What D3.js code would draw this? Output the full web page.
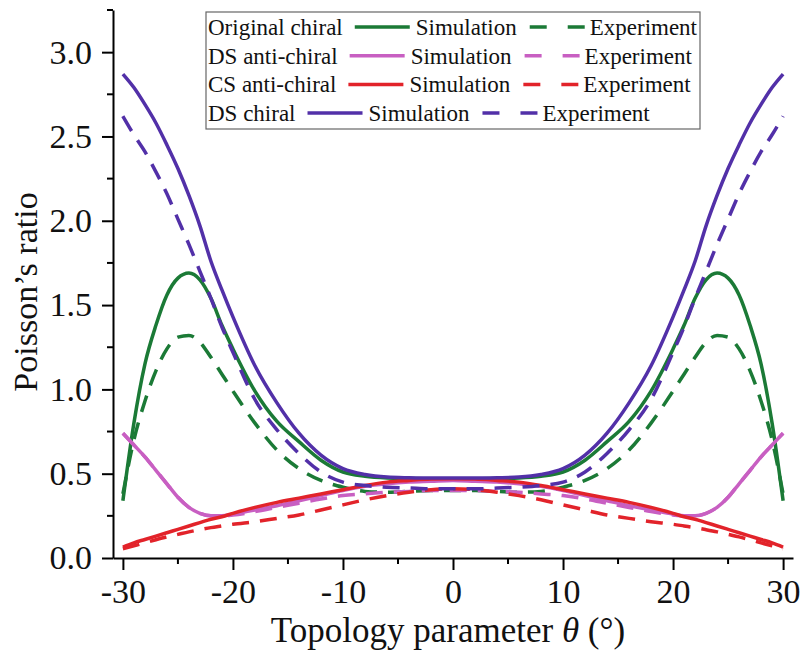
<!DOCTYPE html>
<html>
<head>
<meta charset="utf-8">
<script src="https://cdn.jsdelivr.net/npm/d3@7"></script>
<style>
  body { margin: 0; background: #fff; }
  svg { display: block; }
  svg text { font-family: "Liberation Serif", "Times New Roman", serif; fill: #111; }
</style>
</head>
<body>
<svg width="802" height="654" viewBox="0 0 802 654"></svg>
<script>
//shared topology parameter values (degrees)
var theta = [-30,-29,-28,-27,-26,-25,-24,-23,-22,-21,-20,-18,-16,-14,-12,-10,-8,-6,-4,-2,0,
  2,4,6,8,10,12,14,16,18,20,21,22,23,24,25,26,27,28,29,30];

//Original chiral
var origSim = [0.34,0.80,1.15,1.38,1.56,1.66,1.69,1.65,1.54,1.38,1.24,0.99,0.81,0.69,0.58,0.51,0.485,0.475,0.472,0.47,0.47,
  0.47,0.472,0.475,0.485,0.51,0.58,0.69,0.81,0.99,1.24,1.38,1.54,1.65,1.69,1.66,1.56,1.38,1.15,0.80,0.34];
var origExp = [0.38,0.70,0.93,1.11,1.24,1.31,1.32,1.28,1.19,1.09,0.99,0.80,0.64,0.53,0.46,0.42,0.395,0.39,0.395,0.40,0.40,
  0.40,0.395,0.39,0.395,0.42,0.46,0.53,0.64,0.80,0.99,1.09,1.19,1.28,1.32,1.31,1.24,1.11,0.93,0.70,0.38];

//DS anti-chiral
var dsAntiSim = [0.74,0.67,0.60,0.52,0.44,0.36,0.30,0.265,0.25,0.25,0.26,0.285,0.31,0.34,0.37,0.40,0.425,0.44,0.45,0.455,0.46,
  0.455,0.45,0.44,0.425,0.40,0.37,0.34,0.31,0.285,0.26,0.25,0.25,0.265,0.30,0.36,0.44,0.52,0.60,0.67,0.74];
var dsAntiExp = [0.74,0.67,0.60,0.52,0.44,0.36,0.30,0.265,0.25,0.25,0.255,0.275,0.30,0.325,0.35,0.37,0.38,0.39,0.395,0.40,0.40,
  0.40,0.395,0.39,0.38,0.37,0.35,0.325,0.30,0.275,0.255,0.25,0.25,0.265,0.30,0.36,0.44,0.52,0.60,0.67,0.74];

//CS anti-chiral
var csAntiSim = [0.065,0.09,0.11,0.13,0.15,0.17,0.19,0.21,0.23,0.245,0.265,0.30,0.33,0.355,0.38,0.405,0.43,0.45,0.46,0.468,0.47,
  0.468,0.46,0.45,0.43,0.405,0.38,0.355,0.33,0.30,0.265,0.245,0.23,0.21,0.19,0.17,0.15,0.13,0.11,0.09,0.065];
var csAntiExp = [0.055,0.072,0.09,0.108,0.125,0.14,0.155,0.168,0.18,0.19,0.20,0.215,0.235,0.255,0.285,0.315,0.345,0.37,0.39,0.405,0.41,
  0.405,0.39,0.37,0.345,0.315,0.285,0.255,0.235,0.215,0.20,0.19,0.18,0.168,0.155,0.14,0.125,0.108,0.09,0.072,0.055];

//DS chiral
var dsChiralSim = [2.87,2.79,2.69,2.58,2.45,2.31,2.15,1.97,1.76,1.59,1.43,1.14,0.92,0.74,0.61,0.53,0.495,0.48,0.476,0.474,0.474,
  0.474,0.476,0.48,0.495,0.53,0.61,0.74,0.92,1.14,1.43,1.59,1.76,1.97,2.15,2.31,2.45,2.58,2.69,2.79,2.87];
var dsChiralExp = [2.62,2.51,2.41,2.29,2.16,2.01,1.86,1.70,1.54,1.37,1.22,0.94,0.76,0.62,0.51,0.45,0.43,0.42,0.415,0.41,0.41,
  0.41,0.415,0.42,0.43,0.45,0.51,0.62,0.76,0.94,1.22,1.37,1.54,1.70,1.86,2.01,2.16,2.29,2.41,2.51,2.62];

var groupNames = ["Original chiral", "DS anti-chiral", "CS anti-chiral", "DS chiral"];
var groupColors = ["#1b7a36", "#c85fc2", "#e2232a", "#5230a8"];
var simSeries = [origSim, dsAntiSim, csAntiSim, dsChiralSim];
var expSeries = [origExp, dsAntiExp, csAntiExp, dsChiralExp];

var xMajor = [-30, -20, -10, 0, 10, 20, 30];
var xMinor = [-25, -15, -5, 5, 15, 25];
var yMajor = [0, 0.5, 1.0, 1.5, 2.0, 2.5, 3.0];
var yMinor = [0.25, 0.75, 1.25, 1.75, 2.25, 2.75, 3.25];

var svg = d3.select("svg");

var x = d3.scaleLinear().domain([-30.9, 30.9]).range([113, 793]);
var y = d3.scaleLinear().domain([0, 3.25]).range([558, 10]);

var line = d3.line()
  .x(function(d) { return x(d[0]); })
  .y(function(d) { return y(d[1]); })
  .curve(d3.curveMonotoneX);

//curves: simulation solid, experiment dashed, in legend order
var plot = svg.append("g");
groupNames.forEach(function(name, i) {
  plot.append("path")
    .datum(theta.map(function(t, k) { return [t, simSeries[i][k]]; }))
    .attr("d", line)
    .attr("fill", "none")
    .attr("stroke", groupColors[i])
    .attr("stroke-width", 3.5);
  plot.append("path")
    .datum(theta.map(function(t, k) { return [t, expSeries[i][k]]; }))
    .attr("d", line)
    .attr("fill", "none")
    .attr("stroke", groupColors[i])
    .attr("stroke-width", 3.5)
    .attr("stroke-dasharray", "17,11");
});

//axes (hyphen minus like the original figure)
var xAxis = svg.append("g").attr("transform", "translate(0,558)");
xAxis.call(d3.axisBottom(x).tickValues(xMajor).tickSize(12).tickSizeOuter(0).tickPadding(10)
  .tickFormat(function(d) { return String(d); }));
xAxis.selectAll(".minor").data(xMinor).enter().append("line")
  .attr("x1", function(d) { return x(d); }).attr("x2", function(d) { return x(d); })
  .attr("y1", 0).attr("y2", 6);

var yAxis = svg.append("g").attr("transform", "translate(113,0)");
yAxis.call(d3.axisLeft(y).tickValues(yMajor).tickSize(11).tickSizeOuter(0).tickPadding(10).tickFormat(d3.format(".1f")));
yAxis.selectAll(".minor").data(yMinor).enter().append("line")
  .attr("y1", function(d) { return y(d); }).attr("y2", function(d) { return y(d); })
  .attr("x1", 0).attr("x2", -6);

[xAxis, yAxis].forEach(function(ax) {
  ax.attr("font-family", null).attr("font-size", null);
  ax.select(".domain").attr("stroke", "#000").attr("stroke-width", 2);
  ax.selectAll("line").attr("stroke", "#000").attr("stroke-width", 2);
  ax.selectAll(".tick text").style("font-size", "34px");
});
xAxis.selectAll(".tick text").attr("dy", "0.68em");

//axis titles
svg.append("text")
  .attr("transform", "translate(37,292) rotate(-90)")
  .attr("text-anchor", "middle")
  .style("font-size", "34px")
  .text("Poisson\u2019s ratio");

var xTitle = svg.append("text")
  .attr("x", 448)
  .attr("y", 642)
  .attr("text-anchor", "middle")
  .style("font-size", "35px");
xTitle.append("tspan").text("Topology parameter ");
xTitle.append("tspan").style("font-style", "italic").text("\u03b8");
xTitle.append("tspan").text(" (\u00b0)");

//legend
var legend = svg.append("g");
legend.append("rect")
  .attr("x", 206).attr("y", 12)
  .attr("width", 494).attr("height", 117)
  .attr("fill", "#fff")
  .attr("stroke", "#666")
  .attr("stroke-width", 1.2);

groupNames.forEach(function(name, i) {
  var base = 35 + i * 28.7;
  var mid = base - 8;
  var cx = 208;

  var label = legend.append("text").attr("x", cx).attr("y", base)
    .style("font-size", "23px").text(name);
  cx += label.node().getComputedTextLength() + 12;

  legend.append("line")
    .attr("x1", cx).attr("x2", cx + 55).attr("y1", mid).attr("y2", mid)
    .attr("stroke", groupColors[i]).attr("stroke-width", 3.5);
  cx += 61;

  var sim = legend.append("text").attr("x", cx).attr("y", base)
    .style("font-size", "23px").text("Simulation");
  cx += sim.node().getComputedTextLength() + 13;

  legend.append("line")
    .attr("x1", cx).attr("x2", cx + 55).attr("y1", mid).attr("y2", mid)
    .attr("stroke", groupColors[i]).attr("stroke-width", 3.5)
    .attr("stroke-dasharray", "17,21");
  cx += 60;

  legend.append("text").attr("x", cx).attr("y", base)
    .style("font-size", "23px").text("Experiment");
});
</script>
</body>
</html>
